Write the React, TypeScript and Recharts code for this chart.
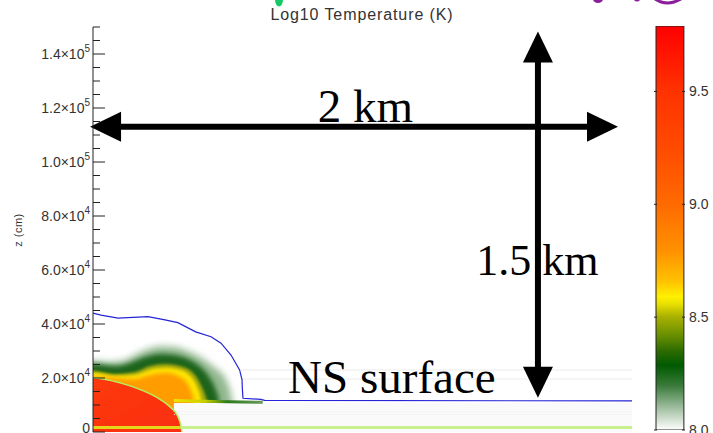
import React from "react";
import {
  ComposedChart,
  BarChart,
  Bar,
  Area,
  Line,
  XAxis,
  YAxis,
  ReferenceLine,
  ReferenceDot,
} from "recharts";

// ---------- data (x and z in cm) ----------
const haloX = [-5000, 0, 6300, 11900, 15600, 20400, 24900, 30400, 36000, 41500, 45300, 49000, 50800, 51600, 51800];
const haloZ = [26300, 26300, 25900, 26700, 28500, 30700, 31800, 31500, 29600, 26700, 23700, 20000, 15600, 11900, 0];

const darkX = [-5000, 0, 8160, 13700, 19300, 24900, 30400, 36000, 40400, 43400, 45600, 46700, 47100];
const darkZ = [25200, 25200, 24400, 25600, 27800, 28900, 28500, 26700, 23700, 20000, 15600, 11900, 0];

const oliveX = [-5000, 0, 8160, 15600, 21100, 26700, 32300, 37100, 39700, 41600, 42300, 42700];
const oliveZ = [22600, 22600, 21500, 22200, 24400, 25200, 24400, 21900, 18100, 13700, 11100, 0];

const yellowX = [-5000, 0, 8160, 15600, 21100, 26700, 32300, 36400, 38600, 40100, 40400];
const yellowZ = [21900, 21900, 20700, 21100, 23000, 23700, 23000, 20400, 16700, 11900, 0];

const orangeX = [-5000, 0, 15600, 21100, 26700, 31500, 34900, 36700, 37500, 37800];
const orangeZ = [20400, 20400, 19600, 21100, 21900, 20700, 18100, 14400, 11100, 0];

const redX = [-5000, 0, 10400, 17800, 24000, 28600, 31200, 32700, 33000];
const redZ = [20000, 20000, 18100, 15600, 12600, 9300, 6300, 1900, 0];

const crustX = [30000, 200000];
const crustLow = [0, 0];
const crustHigh = [10700, 10700];

const surfX = [30000, 45000, 63000];
const surfZ = [11700, 11300, 11000];

const bottomYellowX = [0, 32500];
const bottomGreenX = [32500, 200000];
const bottomZ = 1700;

const blueX = [0, 2970, 9300, 20400, 26700, 31500, 38100, 43800, 47500, 51200, 54400, 55300, 55400, 55650, 62300, 63700, 200000];
const blueZ = [44000, 43300, 42200, 42700, 41500, 40500, 37100, 35300, 32900, 28500, 23000, 19300, 16300, 12500, 12100, 11700, 11500];

const faintZ = [22960, 19630];
const stippleZ = [7600, 6500];

// annotations
const hArrowX = [-1100, 194800];
const hArrowZ = 113100;
const vArrowX = 165100;
const vArrowZ = [148300, 12700];
const noteText = ["2 km", "1.5 km", "NS surface"];
const noteX = [101100, 164900, 110900];
const noteZ = [114900, 58300, 14600];
const noteSize = [47, 44, 47];

// axes
const xTicks = Array.from({ length: 21 }, (_, i) => i * 10000);
const xMajor = [0, 50000, 100000, 150000, 200000];
const yTicks = Array.from({ length: 31 }, (_, i) => i * 5000);
const yLabelValues = [0, 20000, 40000, 60000, 80000, 100000, 120000, 140000];
const yLabelMant = ["0", "2.0\u00d710", "4.0\u00d710", "6.0\u00d710", "8.0\u00d710", "1.0\u00d710", "1.2\u00d710", "1.4\u00d710"];
const yLabelExp = ["", "4", "4", "4", "4", "5", "5", "5"];

// colour bar
const cbMin = 8.0;
const cbMax = 9.79;
const cbTicks = [8.0, 8.5, 9.0, 9.5];
const cbLabels = ["8.0", "8.5", "9.0", "9.5"];
const cbOffsets = [0, 0.16, 0.3, 0.44, 0.555, 0.63, 0.67, 0.688, 0.72, 0.765, 0.806, 0.84, 0.89, 0.95, 1];
const cbColors = ["#ff0000", "#ff3200", "#ff4a00", "#ff6a00", "#ff9000", "#ffc000", "#fff000", "#e8e000", "#a8b000", "#6a9000", "#2a6a00", "#005a00", "#3a7a3a", "#a8c4a8", "#ffffff"];

const zip = (xs: number[], zs: number[]) => xs.map((x, i) => ({ x, z: zs[i] }));
const haloData = zip(haloX, haloZ);
const darkData = zip(darkX, darkZ);
const oliveData = zip(oliveX, oliveZ);
const yellowData = zip(yellowX, yellowZ);
const orangeData = zip(orangeX, orangeZ);
const redData = zip(redX, redZ);
const crustData = crustX.map((x, i) => ({ x, z: [crustLow[i], crustHigh[i]] }));
const surfData = zip(surfX, surfZ);
const blueData = zip(blueX, blueZ);
const bottomYellowData = bottomYellowX.map((x) => ({ x, z: bottomZ }));
const bottomGreenData = bottomGreenX.map((x) => ({ x, z: bottomZ }));
const cbData = [{ k: "T", range: [cbMin, cbMax] }];

const SANS = "'Liberation Sans', Arial, Helvetica, sans-serif";
const SERIF = "'Liberation Serif', 'Times New Roman', serif";
const AX = "#222";

function LeftTick(props: any) {
  const { x, y, payload } = props;
  const v = payload.value;
  const idx = yLabelValues.indexOf(v);
  const major = idx >= 0;
  return (
    <g>
      <line x1={x} x2={x + (major ? 12 : 7)} y1={y} y2={y} stroke={AX} />
      {major && (
        <text x={x - 3} y={y + (v === 0 ? 1 : 5)} textAnchor="end" fontSize={14} fill="#333" fontFamily={SANS}>
          {yLabelMant[idx]}
          {yLabelExp[idx] ? (
            <tspan dy={-7} fontSize={10}>
              {yLabelExp[idx]}
            </tspan>
          ) : null}
        </text>
      )}
    </g>
  );
}

function RightTick(props: any) {
  const { x, y, payload } = props;
  const major = yLabelValues.indexOf(payload.value) >= 0;
  return <line x1={x} x2={x - (major ? 11 : 6)} y1={y} y2={y} stroke={AX} />;
}

function BottomTick(props: any) {
  const { x, y, payload } = props;
  const major = xMajor.indexOf(payload.value) >= 0;
  return <line x1={x} x2={x} y1={y} y2={y - (major ? 10 : 6)} stroke={AX} />;
}

function TopTick(props: any) {
  const { x, y, payload } = props;
  const major = xMajor.indexOf(payload.value) >= 0;
  return <line x1={x} x2={x} y1={y} y2={y + (major ? 10 : 6)} stroke={AX} />;
}

function CbTick(props: any) {
  const { x, y, payload } = props;
  const idx = cbTicks.indexOf(payload.value);
  return (
    <g>
      <line x1={x - 31} x2={x - 28} y1={y} y2={y} stroke={AX} />
      <line x1={x - 3} x2={x} y1={y} y2={y} stroke={AX} />
      <text x={x + 4} y={y + 5} fontSize={14} fill="#333" fontFamily={SANS}>
        {cbLabels[idx]}
      </text>
    </g>
  );
}

function ArrowShape(p: any) {
  const { x1, y1, x2, y2 } = p;
  const dx = x2 - x1;
  const dy = y2 - y1;
  const len = Math.hypot(dx, dy) || 1;
  const ux = dx / len;
  const uy = dy / len;
  const nx = -uy;
  const ny = ux;
  const hl = 31;
  const hw = 15;
  const head = (tx: number, ty: number, dx2: number, dy2: number) => {
    const bx = tx - dx2 * hl;
    const by = ty - dy2 * hl;
    return `${tx},${ty} ${bx + nx * hw},${by + ny * hw} ${bx - nx * hw},${by - ny * hw}`;
  };
  return (
    <g>
      <line
        x1={x1 + ux * (hl - 2)}
        y1={y1 + uy * (hl - 2)}
        x2={x2 - ux * (hl - 2)}
        y2={y2 - uy * (hl - 2)}
        stroke="#000"
        strokeWidth={6}
      />
      <polygon points={head(x2, y2, ux, uy)} fill="#000" />
      <polygon points={head(x1, y1, -ux, -uy)} fill="#000" />
    </g>
  );
}

const noteLabel = (i: number) => (props: any) => {
  const vb = props.viewBox || {};
  const cx = (vb.x || 0) + (vb.width || 0) / 2;
  const cy = (vb.y || 0) + (vb.height || 0) / 2;
  return (
    <text x={cx} y={cy} textAnchor="middle" fontSize={noteSize[i]} fontFamily={SERIF} fill="#000">
      {noteText[i]}
    </text>
  );
};

const css = `
.lv-halo path.recharts-area-area { filter: url(#fb35); }
.lv-dark path.recharts-area-area { filter: url(#fb25); }
.lv-olive path.recharts-area-area { filter: url(#fb15); }
.lv-yellow path.recharts-area-area { filter: url(#fb15); }
.lv-orange path.recharts-area-area { filter: url(#fb20); }
.lv-red path.recharts-area-area { filter: url(#fb06); }
`;

export default function App() {
  return (
    <div style={{ position: "absolute", left: 0, top: 0, width: 713, height: 433, background: "#fff", overflow: "hidden" }}>
      <style>{css}</style>
      <div style={{ position: "absolute", left: 0, top: 0 }}>
        <ComposedChart width={713} height={433} margin={{ top: 27, right: 81, bottom: 1, left: 0 }}>
          <defs>
            <filter id="fb35" x="-20%" y="-20%" width="140%" height="140%">
              <feGaussianBlur stdDeviation={3.5} />
            </filter>
            <filter id="fb25" x="-20%" y="-20%" width="140%" height="140%">
              <feGaussianBlur stdDeviation={2.5} />
            </filter>
            <filter id="fb20" x="-20%" y="-20%" width="140%" height="140%">
              <feGaussianBlur stdDeviation={2} />
            </filter>
            <filter id="fb15" x="-20%" y="-20%" width="140%" height="140%">
              <feGaussianBlur stdDeviation={1.5} />
            </filter>
            <filter id="fb06" x="-20%" y="-20%" width="140%" height="140%">
              <feGaussianBlur stdDeviation={0.6} />
            </filter>
            <linearGradient id="redGrad" x1="0" y1="0" x2="1" y2="1">
              <stop offset="0" stopColor="#ff3a10" />
              <stop offset="1" stopColor="#fa2e12" />
            </linearGradient>
            <linearGradient id="surfGrad" x1="0" y1="0" x2="1" y2="0">
              <stop offset="0" stopColor="#f2e200" />
              <stop offset="0.35" stopColor="#c8d000" />
              <stop offset="0.6" stopColor="#2a7a1a" />
              <stop offset="1" stopColor="#6a9a5a" />
            </linearGradient>
          </defs>

          <XAxis
            type="number"
            dataKey="x"
            domain={[0, 200000]}
            allowDataOverflow
            ticks={xTicks}
            interval={0}
            height={0}
            tickSize={0}
            tickMargin={0}
            tickLine={false}
            axisLine={{ stroke: AX }}
            tick={BottomTick}
          />
          <XAxis
            xAxisId="top"
            orientation="top"
            type="number"
            dataKey="x"
            domain={[0, 200000]}
            allowDataOverflow
            ticks={xTicks}
            interval={0}
            height={0}
            tickSize={0}
            tickMargin={0}
            tickLine={false}
            axisLine={{ stroke: AX }}
            tick={TopTick}
          />
          <YAxis
            type="number"
            domain={[0, 150000]}
            allowDataOverflow
            ticks={yTicks}
            interval={0}
            width={93}
            tickSize={0}
            tickMargin={0}
            tickLine={false}
            axisLine={{ stroke: AX }}
            tick={LeftTick}
          />
          <YAxis
            yAxisId="right"
            orientation="right"
            type="number"
            domain={[0, 150000]}
            allowDataOverflow
            ticks={yTicks}
            interval={0}
            width={0}
            tickSize={0}
            tickMargin={0}
            tickLine={false}
            axisLine={{ stroke: AX }}
            tick={RightTick}
          />

          {faintZ.map((z) => (
            <ReferenceLine
              key={z}
              segment={[{ x: 55000, y: z }, { x: 200000, y: z }]}
              stroke="#ebebeb"
              strokeWidth={1}
              ifOverflow="visible"
            />
          ))}

          <Area className="lv-halo" data={haloData} dataKey="z" type="monotone" fill="#86b084" fillOpacity={0.9} stroke="none" isAnimationActive={false} />
          <Area className="lv-dark" data={darkData} dataKey="z" type="monotone" fill="#1f641d" fillOpacity={1} stroke="none" isAnimationActive={false} />
          <Area className="lv-olive" data={oliveData} dataKey="z" type="monotone" fill="#a6aa10" fillOpacity={1} stroke="none" isAnimationActive={false} />
          <Area className="lv-yellow" data={yellowData} dataKey="z" type="monotone" fill="#ffe400" fillOpacity={1} stroke="none" isAnimationActive={false} />
          <Area className="lv-orange" data={orangeData} dataKey="z" type="monotone" fill="#ff9c00" fillOpacity={1} stroke="none" isAnimationActive={false} />

          <Area data={crustData} dataKey="z" type="linear" fill="#fafafa" fillOpacity={1} stroke="none" isAnimationActive={false} />
          {stippleZ.map((z) => (
            <ReferenceLine
              key={z}
              segment={[{ x: 30000, y: z }, { x: 200000, y: z }]}
              stroke="#efefef"
              strokeWidth={1}
              strokeDasharray="1 1"
              ifOverflow="visible"
            />
          ))}

          <Area className="lv-red" data={redData} dataKey="z" type="monotone" fill="url(#redGrad)" fillOpacity={1} stroke="none" isAnimationActive={false} />
          <Line data={redData} dataKey="z" type="monotone" stroke="#b4f060" strokeWidth={1.5} dot={false} isAnimationActive={false} />

          <Line data={surfData} dataKey="z" type="monotone" stroke="url(#surfGrad)" strokeWidth={3} dot={false} isAnimationActive={false} />
          <Line data={bottomYellowData} dataKey="z" type="linear" stroke="#e4d81a" strokeWidth={3} dot={false} isAnimationActive={false} />
          <Line data={bottomGreenData} dataKey="z" type="linear" stroke="#c8f08c" strokeWidth={3} dot={false} isAnimationActive={false} />

          <Line data={blueData} dataKey="z" type="linear" stroke="#2424d8" strokeWidth={1.2} dot={false} isAnimationActive={false} />

          <ReferenceLine
            segment={[{ x: hArrowX[0], y: hArrowZ }, { x: hArrowX[1], y: hArrowZ }]}
            ifOverflow="visible"
            shape={ArrowShape}
          />
          <ReferenceLine
            segment={[{ x: vArrowX, y: vArrowZ[0] }, { x: vArrowX, y: vArrowZ[1] }]}
            ifOverflow="visible"
            shape={ArrowShape}
          />

          {noteText.map((t, i) => (
            <ReferenceDot
              key={t}
              x={noteX[i]}
              y={noteZ[i]}
              r={0}
              fill="none"
              stroke="none"
              ifOverflow="visible"
              label={{ content: noteLabel(i) }}
            />
          ))}
        </ComposedChart>
      </div>

      <div style={{ position: "absolute", left: 640, top: 0 }}>
        <BarChart width={73} height={433} data={cbData} margin={{ top: 26, right: 0, bottom: 3, left: 14 }} barCategoryGap={0} barGap={0}>
          <defs>
            <linearGradient id="cbGrad" x1="0" y1="0" x2="0" y2="1">
              {cbOffsets.map((o, i) => (
                <stop key={i} offset={o} stopColor={cbColors[i]} />
              ))}
            </linearGradient>
          </defs>
          <XAxis dataKey="k" hide padding={{ left: 0, right: 0 }} />
          <YAxis
            orientation="right"
            type="number"
            domain={[cbMin, cbMax]}
            allowDataOverflow
            ticks={cbTicks}
            interval={0}
            width={28}
            tickSize={0}
            tickMargin={0}
            tickLine={false}
            axisLine={false}
            tick={CbTick}
          />
          <Bar dataKey="range" barSize={31} fill="url(#cbGrad)" stroke={AX} strokeWidth={1} isAnimationActive={false} />
        </BarChart>
      </div>

      <svg width={713} height={433} style={{ position: "absolute", left: 0, top: 0, pointerEvents: "none" }}>
        <text x={362} y={20} textAnchor="middle" fontSize={16} letterSpacing={0.9} fill="#333" fontFamily={SANS}>
          Log10 Temperature (K)
        </text>
        <text x={0} y={0} transform="translate(22,230) rotate(-90)" textAnchor="middle" fontSize={11} letterSpacing={0.5} fill="#333" fontFamily={SANS}>
          z (cm)
        </text>
        <ellipse cx={279} cy={0} rx={4} ry={6.5} fill="#17c964" />
        <ellipse cx={598} cy={-1} rx={5} ry={4} fill="#8b1e9b" />
        <ellipse cx={637} cy={-1} rx={3} ry={2.5} fill="#8b1e9b" />
        <path d="M655,-1 Q667,7 681,-1" stroke="#8b1e9b" strokeWidth={3} fill="none" />
      </svg>
    </div>
  );
}
